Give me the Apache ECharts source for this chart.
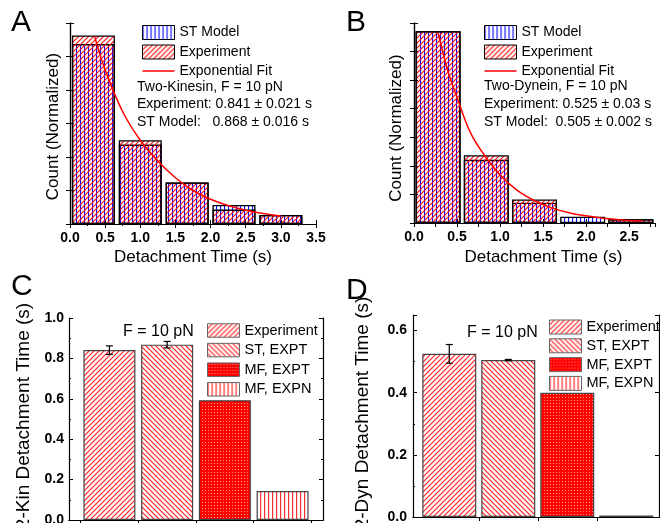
<!DOCTYPE html>
<html>
<head>
<meta charset="utf-8">
<script src="https://cdn.jsdelivr.net/npm/echarts@6/dist/echarts.min.js"></script>
<style>
  html, body { margin: 0; padding: 0; background: #fff; }
  #chart { width: 660px; height: 523px; }
</style>
</head>
<body>
<div id="chart"></div>
<script>
// A: two-kinesin detachment time histogram
const binsA = [0.333, 1.0, 1.667, 2.333, 3.0];
const stModelA = [5.37, 2.37, 1.24, 0.57, 0.27];
const experimentA = [5.63, 2.50, 1.24, 0.43, 0.27];
const fitTimeA = [0.35, 0.5, 0.75, 1.0, 1.25, 1.5, 1.75, 2.0, 2.25, 2.5, 2.75, 3.0];
const fitCountA = [5.60, 4.60, 3.35, 2.50, 1.88, 1.38, 1.00, 0.74, 0.55, 0.41, 0.31, 0.24];

// B: two-dynein detachment time histogram
const binsB = [0.28, 0.84, 1.40, 1.96, 2.52];
const stModelB = [6.71, 2.21, 0.71, 0.22, 0.13];
const experimentB = [6.71, 2.37, 0.82, 0.03, 0.13];
const fitTimeB = [0.28, 0.4, 0.5, 0.65, 0.8, 1.0, 1.2, 1.4, 1.6, 1.8, 2.0, 2.2, 2.45, 2.65];
const fitCountB = [6.65, 5.25, 4.40, 3.20, 2.45, 1.68, 1.14, 0.78, 0.53, 0.36, 0.25, 0.17, 0.10, 0.07];

// C, D: mean detachment times
const methods = ['Experiment', 'ST, EXPT', 'MF, EXPT', 'MF, EXPN'];
const methodPos = [1, 2, 3, 4];
const kinTime = [0.841, 0.868, 0.593, 0.143];
const kinErr = [0.021, 0.016, 0, 0];
const dynTime = [0.525, 0.505, 0.400, 0.005];
const dynErr = [0.030, 0.002, 0, 0];

const font = '"Liberation Sans", Arial, sans-serif';

function pattern(kind, color, bg, lw) {
  const c = document.createElement('canvas');
  const s = (kind === 'vert' || kind === 'vertThin') ? 4 : (kind === 'dots' ? 3 : 5);
  c.width = s; c.height = s;
  const g = c.getContext('2d');
  if (bg) { g.fillStyle = bg; g.fillRect(0, 0, s, s); }
  g.fillStyle = color; g.strokeStyle = color;
  if (kind === 'vert' || kind === 'vertThin') {
    g.fillRect(0, 0, lw, s);
  } else if (kind === 'dots') {
    g.fillStyle = 'rgba(255,255,255,0.55)';
    g.fillRect(1, 1, 1, 1);
  } else {
    g.lineWidth = lw;
    g.beginPath();
    if (kind === 'fwd') {
      g.moveTo(-1, s + 1); g.lineTo(s + 1, -1);
      g.moveTo(-1, 1); g.lineTo(1, -1);
      g.moveTo(s - 1, s + 1); g.lineTo(s + 1, s - 1);
    } else {
      g.moveTo(-1, -1); g.lineTo(s + 1, s + 1);
      g.moveTo(-1, s - 1); g.lineTo(1, s + 1);
      g.moveTo(s - 1, -1); g.lineTo(s + 1, 1);
    }
    g.stroke();
  }
  return { image: c, repeat: 'repeat' };
}

const blueVert = pattern('vert', '#0a0aff', null, 1.1);
const redFwd = pattern('fwd', '#ff0a0a', null, 1.1);
const cPatterns = [
  pattern('fwd', '#ff2020', '#fff', 1.2),
  pattern('back', '#ff2020', '#fff', 1.2),
  pattern('dots', '#ff0000', '#ff0000'),
  pattern('vertThin', '#ff3030', '#fff', 1.2)
];

const zip = (a, b) => a.map((v, i) => [v, b[i]]);
const stripName = n => n.split('|')[1];

function frameAxes(gridIndex, pos, min, max, extra) {
  return Object.assign({
    gridIndex: gridIndex, type: 'value', position: pos, min: min, max: max,
    axisLine: { show: true, lineStyle: { color: '#000', width: 1.2 } },
    axisTick: { show: true, inside: true, length: 4, lineStyle: { color: '#000' } },
    axisLabel: { show: false },
    splitLine: { show: false }
  }, extra || {});
}

const tickLabel = { show: true, fontFamily: font, fontSize: 14, fontWeight: 'bold', color: '#000', formatter: v => v.toFixed(1) };
const nameStyle = { fontFamily: font, fontSize: 17, color: '#000' };
const longName = Object.assign({}, nameStyle, { fontSize: 19, padding: [0, 0, 0, 6] });

// axis index 2*p is the bottom/left axis of panel p, 2*p+1 the top/right frame
const xAxes = [
  frameAxes(0, 'bottom', 0, 3.5, { interval: 0.5, axisLabel: Object.assign({ margin: 7 }, tickLabel),
    name: 'Detachment Time (s)', nameLocation: 'middle', nameGap: 25, nameTextStyle: nameStyle }),
  frameAxes(0, 'top', 0, 3.5, { interval: 0.5, minorTick: { show: true, splitNumber: 2, length: 2 } }),
  frameAxes(1, 'bottom', 0, 2.8, { interval: 0.5, axisLabel: Object.assign({ margin: 7, showMaxLabel: false }, tickLabel),
    name: 'Detachment Time (s)', nameLocation: 'middle', nameGap: 26,
    nameTextStyle: Object.assign({ padding: [0, 0, 0, 18] }, nameStyle) }),
  frameAxes(1, 'top', 0, 2.8, { interval: 0.25 }),
  frameAxes(2, 'bottom', 0.3, 4.7, { axisTick: { show: false } }),
  frameAxes(2, 'top', 0.3, 4.7, { axisTick: { show: true, inside: true, length: 4, customValues: [0.5, 1.5, 2.5, 3.5, 4.5], lineStyle: { color: '#000' } } }),
  frameAxes(3, 'bottom', 0.385, 4.555, { axisTick: { show: false } }),
  frameAxes(3, 'top', 0.385, 4.555, { axisTick: { show: true, inside: true, length: 4, customValues: [1.5, 2.5, 3.5], lineStyle: { color: '#000' } } })
];

const yAxes = [
  frameAxes(0, 'left', 0, 6, { interval: 1, name: 'Count (Normalized)', nameLocation: 'middle', nameGap: 8,
    nameTextStyle: Object.assign({ padding: [0, 6, 0, 0] }, nameStyle) }),
  frameAxes(0, 'right', 0, 6, { interval: 1 }),
  frameAxes(1, 'left', 0, 7, { interval: 1, name: 'Count (Normalized)', nameLocation: 'middle', nameGap: 9,
    nameTextStyle: Object.assign({ padding: [0, 10, 0, 0] }, nameStyle) }),
  frameAxes(1, 'right', 0, 7, { interval: 1 }),
  frameAxes(2, 'left', 0, 1.0, { interval: 0.2, axisLabel: Object.assign({ margin: 5 }, tickLabel),
    minorTick: { show: true, splitNumber: 2, length: 2 },
    name: '2-Kin Detachment Time (s)', nameLocation: 'middle', nameGap: 36, nameTextStyle: longName }),
  frameAxes(2, 'right', 0, 1.0, { interval: 0.2, minorTick: { show: true, splitNumber: 2, length: 2 } }),
  frameAxes(3, 'left', 0, 0.65, { interval: 0.2, axisLabel: Object.assign({ margin: 6, showMaxLabel: false }, tickLabel),
    minorTick: { show: true, splitNumber: 2, length: 2 },
    name: '2-Dyn Detachment Time (s)', nameLocation: 'middle', nameGap: 41, nameTextStyle: longName }),
  frameAxes(3, 'right', 0, 0.65, { interval: 0.2 })
];

function histSeries(panel, axis, bins, st, expt, fitT, fitC, width) {
  return [
    { name: panel + '|ST Model', type: 'bar', xAxisIndex: axis, yAxisIndex: axis, data: zip(bins, st),
      barWidth: width, barGap: '-100%', itemStyle: { color: blueVert, borderColor: '#000', borderWidth: 1.3 } },
    { name: panel + '|Experiment', type: 'bar', xAxisIndex: axis, yAxisIndex: axis, data: zip(bins, expt),
      barWidth: width, barGap: '-100%', itemStyle: { color: redFwd, borderColor: '#000', borderWidth: 1.3 } },
    { name: panel + '|Exponential Fit', type: 'line', xAxisIndex: axis, yAxisIndex: axis, data: zip(fitT, fitC),
      smooth: 0.4, symbol: 'none', z: 5, lineStyle: { color: '#ff0000', width: 1.5 }, itemStyle: { color: '#ff0000' } }
  ];
}

function meanSeries(panel, axis, values, errs, width) {
  const bars = methods.map((m, i) => ({
    name: panel + '|' + m, type: 'bar', xAxisIndex: axis, yAxisIndex: axis,
    data: [[methodPos[i], values[i]]], barWidth: width, barGap: '-100%',
    itemStyle: { color: cPatterns[i], borderColor: '#444', borderWidth: 1.2 }
  }));
  const errData = methodPos.map((p, i) => [p, values[i] - errs[i], values[i] + errs[i]]).filter((d, i) => errs[i] > 0);
  bars.push({
    type: 'custom', xAxisIndex: axis, yAxisIndex: axis, data: errData, z: 6,
    encode: { x: 0, y: [1, 2] },
    renderItem: function (params, api) {
      const hi = api.coord([api.value(0), api.value(2)]);
      const lo = api.coord([api.value(0), api.value(1)]);
      const st = { stroke: '#000', lineWidth: 1.2 };
      return { type: 'group', children: [
        { type: 'line', shape: { x1: hi[0], y1: hi[1], x2: lo[0], y2: lo[1] }, style: st },
        { type: 'line', shape: { x1: hi[0] - 3.5, y1: hi[1], x2: hi[0] + 3.5, y2: hi[1] }, style: st },
        { type: 'line', shape: { x1: lo[0] - 3.5, y1: lo[1], x2: lo[0] + 3.5, y2: lo[1] }, style: st }
      ] };
    }
  });
  return bars;
}

function histLegend(panel, left, top) {
  return {
    left: left, top: top, orient: 'vertical', padding: 0, itemWidth: 32, itemHeight: 14, itemGap: 4.5,
    selectedMode: false, formatter: stripName,
    textStyle: { fontFamily: font, fontSize: 14, color: '#000' },
    data: [
      { name: panel + '|ST Model', icon: 'rect', itemStyle: { borderColor: '#000', borderWidth: 1 } },
      { name: panel + '|Experiment', icon: 'rect', itemStyle: { borderColor: '#000', borderWidth: 1 } },
      { name: panel + '|Exponential Fit', icon: 'path://M0,0L32,0L32,1.5L0,1.5Z' }
    ]
  };
}

function meanLegend(panel, left, top, h, gap) {
  return {
    left: left, top: top, orient: 'vertical', padding: 0, itemWidth: 32, itemHeight: h, itemGap: gap,
    selectedMode: false, formatter: stripName,
    textStyle: { fontFamily: font, fontSize: 14.5, color: '#000' },
    data: methods.map(m => ({ name: panel + '|' + m, icon: 'rect', itemStyle: { borderColor: '#666', borderWidth: 1 } }))
  };
}

function label(text, x, y, size) {
  return { type: 'text', x: x, y: y, style: { text: text, fontFamily: font, fontSize: size, fill: '#000', textVerticalAlign: 'middle' } };
}

const chart = echarts.init(document.getElementById('chart'));
chart.setOption({
  animation: false,
  backgroundColor: '#fff',
  grid: [
    { left: 70, top: 23, width: 246, height: 201, outerBoundsMode: 'none' },
    { left: 414, top: 23, width: 241, height: 200, outerBoundsMode: 'none' },
    { left: 69, top: 318, width: 254, height: 202, outerBoundsMode: 'none' },
    { left: 413, top: 315, width: 246, height: 202, outerBoundsMode: 'none' }
  ],
  xAxis: xAxes,
  yAxis: yAxes,
  legend: [
    histLegend('A', 142, 25),
    histLegend('B', 484, 25),
    meanLegend('C', 207, 323, 13.5, 4.6),
    meanLegend('D', 549, 319.5, 14, 3.8)
  ],
  series: [].concat(
    histSeries('A', 0, binsA, stModelA, experimentA, fitTimeA, fitCountA, 43),
    histSeries('B', 2, binsB, stModelB, experimentB, fitTimeB, fitCountB, 45),
    meanSeries('C', 4, kinTime, kinErr, 52),
    meanSeries('D', 6, dynTime, dynErr, 54)
  ),
  graphic: [
    label('A', 11, 23, 30), label('B', 346, 23, 30), label('C', 11, 287, 30), label('D', 346, 291, 30),
    label('Two-Kinesin, F = 10 pN', 137, 87, 14),
    label('Experiment: 0.841 \u00b1 0.021 s', 137, 104.5, 14),
    label('ST Model:   0.868 \u00b1 0.016 s', 137, 122.5, 14),
    label('Two-Dynein, F = 10 pN', 484, 86, 14),
    label('Experiment: 0.525 \u00b1 0.03 s', 484, 104.5, 14),
    label('ST Model:  0.505 \u00b1 0.002 s', 484, 122.5, 14),
    label('F = 10 pN', 123, 331.5, 16),
    label('F = 10 pN', 467, 333, 16)
  ]
});
</script>
</body>
</html>
